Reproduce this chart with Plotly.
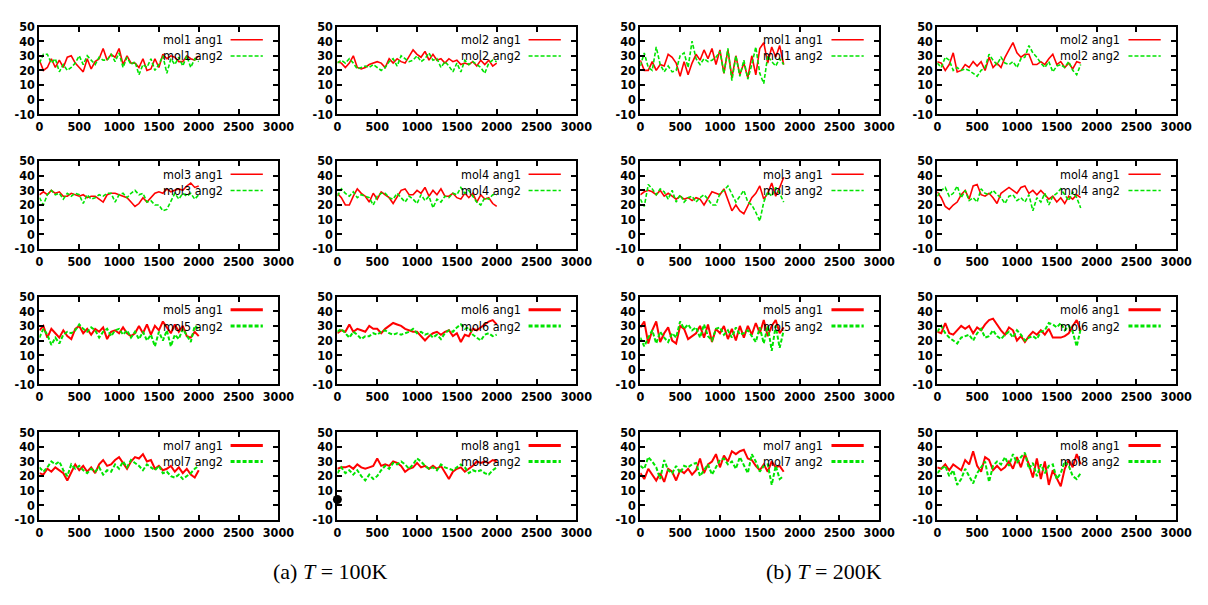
import plotly.graph_objects as go

# sample times (steps) of the two runs
t_100K = list(range(0, 2001, 50))
t_200K = list(range(0, 1801, 50))

# ---- T = 100K : angle time series (degrees) ----
mol1_100_ang1 = [27,20,22,28,22,27,22,29,30,25,22,19,28,21,26,28,35,27,31,29,35,24,30,25,25,22,28,20,21,28,22,31,28,30,29,26,26,30,28,27,30]
mol1_100_ang2 = [25,31,31,25,28,19,24,20,22,25,30,24,30,27,24,29,27,27,31,26,32,22,29,24,26,17,24,22,28,20,24,30,18,28,24,29,23,30,22,28,26]
mol2_100_ang1 = [26,25,22,25,30,22,21,22,24,25,26,25,22,28,25,28,26,25,30,34,31,29,33,27,31,27,28,25,28,26,27,24,25,24,26,23,27,24,27,23,25]
mol2_100_ang2 = [25,27,25,28,25,21,22,23,22,24,22,20,22,26,28,23,30,28,26,27,30,26,28,32,27,28,22,26,23,19,25,19,27,24,26,24,22,18,25,27,26]
mol3_100_ang1 = [27,29,27,30,28,29,26,26,28,27,26,27,25,26,26,24,22,27,28,28,27,26,25,22,19,21,25,22,25,28,29,28,31,29,30,31,30,33,35,32,33]
mol3_100_ang2 = [25,20,27,30,27,28,24,28,26,28,27,21,27,24,25,27,26,28,28,22,27,28,25,28,30,27,28,22,23,20,20,16,17,22,28,24,28,26,28,24,27]
mol4_100_ang1 = [28,25,20,20,26,31,28,26,22,28,24,29,27,25,21,26,30,31,27,27,30,28,32,26,30,27,31,26,26,28,25,24,28,25,28,22,27,24,25,21,19]
mol4_100_ang2 = [26,31,28,26,29,25,27,26,25,20,26,28,28,25,24,28,25,22,26,24,21,27,23,26,18,24,22,26,25,28,27,32,28,30,26,22,20,25,24,27,27]
mol5_100_ang1 = [27,30,22,28,25,22,27,23,21,28,30,25,28,24,28,26,29,21,26,27,25,29,25,23,25,30,25,31,24,30,27,33,29,25,31,26,30,23,22,26,23]
mol5_100_ang2 = [22,28,24,17,22,18,24,26,25,27,31,28,26,29,27,22,26,28,23,27,28,24,27,22,26,21,26,20,24,16,26,20,27,16,24,21,28,23,19,30,28]
mol6_100_ang1 = [25,27,26,31,26,28,27,26,30,28,28,25,28,30,32,31,30,28,27,26,26,23,20,23,25,26,24,26,27,23,25,19,24,23,28,27,29,31,33,34,31]
mol6_100_ang2 = [26,28,25,22,26,24,21,23,23,25,24,26,27,25,24,25,24,25,26,28,25,26,24,25,22,24,21,25,27,26,29,31,28,29,24,22,20,24,25,23,24]
mol7_100_ang1 = [22,21,25,23,26,24,22,17,22,28,24,27,23,26,22,28,31,27,28,31,33,29,25,30,33,32,35,30,31,25,27,24,25,27,23,26,22,25,21,19,24]
mol7_100_ang2 = [26,23,26,30,28,30,24,20,28,25,27,24,22,25,23,26,21,24,23,28,25,30,26,31,29,27,24,28,26,24,27,22,23,20,19,21,18,20,22,25,27]
mol8_100_ang1 = [25,26,26,27,25,28,26,25,26,27,32,27,28,27,30,29,27,23,25,26,29,26,27,25,27,25,27,22,18,23,25,26,23,25,27,30,29,30,29,31,30]
mol8_100_ang2 = [22,26,22,24,21,24,20,17,21,18,20,24,27,25,29,28,30,28,25,28,32,30,27,25,26,24,28,26,25,24,26,28,26,22,24,23,24,22,21,24,26]

# ---- T = 200K ----
mol1_200_ang1 = [27,20,20,26,20,24,23,31,29,25,16,26,17,25,31,27,34,28,35,24,34,18,34,15,30,17,25,15,30,17,35,39,25,36,29,37,24]
mol1_200_ang2 = [23,32,22,20,36,24,19,23,19,20,30,32,22,40,28,24,28,26,27,29,33,18,35,13,30,16,27,14,24,36,18,11,30,26,23,28,24]
mol2_200_ang1 = [26,25,20,24,32,19,20,24,22,26,23,26,20,29,22,25,22,29,34,39,32,29,31,31,24,24,26,24,28,31,24,26,22,25,21,26,25]
mol2_200_ang2 = [25,22,29,27,20,22,20,21,20,18,16,20,22,31,27,24,29,25,24,26,22,28,29,37,32,29,25,22,26,19,23,24,22,26,20,17,24]
mol3_200_ang1 = [27,29,30,29,27,30,26,28,26,24,26,24,25,23,25,24,20,25,29,28,27,31,24,16,20,16,14,20,25,28,33,24,28,35,26,32,39]
mol3_200_ang2 = [24,19,34,31,27,31,29,24,30,22,27,22,25,26,22,25,27,24,20,20,28,30,33,27,22,26,30,22,20,15,9,22,29,26,32,28,22]
mol4_200_ang1 = [29,25,19,17,20,22,27,30,24,33,34,27,26,28,25,21,28,30,32,30,28,32,33,28,30,27,30,27,24,26,22,25,21,26,24,27,25]
mol4_200_ang2 = [26,30,32,26,28,33,25,30,23,25,22,31,28,27,30,27,25,21,26,27,23,25,22,27,16,25,22,28,20,26,28,31,27,23,29,25,18]
mol5_200_ang1 = [29,33,18,27,33,19,25,29,20,18,30,28,21,23,25,30,22,31,19,28,25,30,21,28,20,30,22,30,24,32,25,34,23,30,34,25,29]
mol5_200_ang2 = [22,16,22,27,18,26,22,19,25,22,33,28,31,27,29,22,31,23,20,28,29,24,27,22,29,24,25,27,23,19,29,18,30,13,30,15,27]
mol6_200_ang1 = [26,25,32,25,24,27,30,28,30,25,29,27,31,34,35,31,27,24,29,27,20,23,19,23,26,24,27,24,28,22,22,22,23,25,30,34,27]
mol6_200_ang2 = [26,30,25,22,20,18,22,23,24,20,25,28,22,23,27,23,21,24,26,22,27,24,20,22,23,21,26,27,32,31,29,32,27,30,26,16,28]
mol7_200_ang1 = [22,18,25,21,17,22,16,25,23,17,24,22,25,21,24,32,22,28,30,35,26,34,30,37,35,37,38,32,31,27,24,28,23,30,26,27,23]
mol7_200_ang2 = [27,25,33,30,26,18,31,24,22,27,22,27,26,28,29,20,24,28,21,26,31,32,28,30,25,33,28,22,35,30,23,27,28,14,27,18,20]
mol8_200_ang1 = [26,25,28,24,28,26,24,31,28,37,27,23,33,31,24,27,24,26,30,25,33,26,35,28,19,32,18,30,14,24,18,13,25,31,26,35,28]
mol8_200_ang2 = [22,25,27,20,24,14,18,25,20,15,22,26,30,16,27,30,28,33,27,35,29,33,36,25,29,20,28,22,27,28,18,22,30,27,20,18,22]

# stray marker on the mol8 (100K) panel
stray_x = [0]
stray_y = [4]

# axis ticks
x_ticks = [0, 500, 1000, 1500, 2000, 2500, 3000]
y_ticks = [-10, 0, 10, 20, 30, 40, 50]
y_tick_text = ["-10", "0", "10", "20", "30", "40", "50"]

panels = [
    # (row, col, label, t, ang1, ang2)
    (0, 0, "mol1", t_100K, mol1_100_ang1, mol1_100_ang2),
    (0, 1, "mol2", t_100K, mol2_100_ang1, mol2_100_ang2),
    (0, 2, "mol1", t_200K, mol1_200_ang1, mol1_200_ang2),
    (0, 3, "mol2", t_200K, mol2_200_ang1, mol2_200_ang2),
    (1, 0, "mol3", t_100K, mol3_100_ang1, mol3_100_ang2),
    (1, 1, "mol4", t_100K, mol4_100_ang1, mol4_100_ang2),
    (1, 2, "mol3", t_200K, mol3_200_ang1, mol3_200_ang2),
    (1, 3, "mol4", t_200K, mol4_200_ang1, mol4_200_ang2),
    (2, 0, "mol5", t_100K, mol5_100_ang1, mol5_100_ang2),
    (2, 1, "mol6", t_100K, mol6_100_ang1, mol6_100_ang2),
    (2, 2, "mol5", t_200K, mol5_200_ang1, mol5_200_ang2),
    (2, 3, "mol6", t_200K, mol6_200_ang1, mol6_200_ang2),
    (3, 0, "mol7", t_100K, mol7_100_ang1, mol7_100_ang2),
    (3, 1, "mol8", t_100K, mol8_100_ang1, mol8_100_ang2),
    (3, 2, "mol7", t_200K, mol7_200_ang1, mol7_200_ang2),
    (3, 3, "mol8", t_200K, mol8_200_ang1, mol8_200_ang2),
]

W, H = 1208, 605
COL_PX = [(36, 279), (339, 582), (647, 890), (949, 1192)]
ROW_TOP = [19, 157, 296, 435]
PLOT_H = 90

RED = "#ff0000"
GREEN = "#00e400"
SANS = "Liberation Sans Narrow, Arial Narrow, DejaVu Sans Condensed, sans-serif"
TICK_FONT = dict(family=SANS, size=12.5, color="black", weight="bold")
KEY_FONT = dict(family=SANS, size=12.5, color="black")

fig = go.Figure()
layout = dict(width=W, height=H, margin=dict(l=0, r=0, t=0, b=0),
              paper_bgcolor="white", plot_bgcolor="white", showlegend=False)
annotations = []
shapes = []

for i, (r, c, name, t, a1, a2) in enumerate(panels, start=1):
    xa = "x" if i == 1 else f"x{i}"
    ya = "y" if i == 1 else f"y{i}"
    x0, x1 = COL_PX[c]
    top = ROW_TOP[r]
    bot = top + PLOT_H
    axis_common = dict(showline=True, linecolor="black", linewidth=2, mirror="ticks",
                       ticks="inside", ticklen=5, tickwidth=1.5, tickcolor="black",
                       showgrid=False, zeroline=False, tickfont=TICK_FONT, fixedrange=True)
    layout["xaxis" if i == 1 else f"xaxis{i}"] = dict(
        domain=[x0 / W, x1 / W], range=[0, 3000], tickvals=x_ticks,
        anchor=ya, **axis_common)
    layout["yaxis" if i == 1 else f"yaxis{i}"] = dict(
        domain=[1 - bot / H, 1 - top / H], range=[-10, 50], tickvals=y_ticks,
        ticktext=y_tick_text, anchor=xa, **axis_common)

    thick = r >= 2
    lw = 2.0 if thick else 1.6
    fig.add_trace(go.Scatter(x=t, y=a1, mode="lines", xaxis=xa, yaxis=ya,
                             line=dict(color=RED, width=lw), name=f"{name} ang1"))
    fig.add_trace(go.Scatter(x=t, y=a2, mode="lines", xaxis=xa, yaxis=ya,
                             line=dict(color=GREEN, width=lw, dash="4px,2px"), name=f"{name} ang2"))

    # gnuplot-style key: right-justified text with sample line to its right
    for k, (lab, col, dash) in enumerate([("ang1", RED, "solid"), ("ang2", GREEN, "4px,2px")]):
        ky = 0.85 - 0.185 * k
        annotations.append(dict(text=f"{name} {lab}", xref=f"{xa} domain", yref=f"{ya} domain",
                                x=0.775, y=ky, xanchor="right", yanchor="middle",
                                showarrow=False, font=KEY_FONT))
        shapes.append(dict(type="line", xref=f"{xa} domain", yref=f"{ya} domain",
                           x0=0.80, x1=0.935, y0=ky, y1=ky,
                           line=dict(color=col, width=3 if thick else 1.6, dash=dash)))

    if r == 3 and c == 1:
        fig.add_trace(go.Scatter(x=stray_x, y=stray_y, mode="markers", xaxis=xa, yaxis=ya,
                                 cliponaxis=False, marker=dict(color="black", size=9)))

CAP_FONT = dict(family="Liberation Serif, Times New Roman, serif", size=22, color="black")
annotations.append(dict(text="(a) <i>T</i> = 100K", xref="paper", yref="paper",
                        x=272 / W, y=1 - 593 / H, showarrow=False, font=CAP_FONT))
annotations.append(dict(text="(b) <i>T</i> = 200K", xref="paper", yref="paper",
                        x=895 / W, y=1 - 593 / H, showarrow=False, font=CAP_FONT))

layout["annotations"] = annotations
layout["shapes"] = shapes
fig.update_layout(**layout)
fig.write_html("out.html")
